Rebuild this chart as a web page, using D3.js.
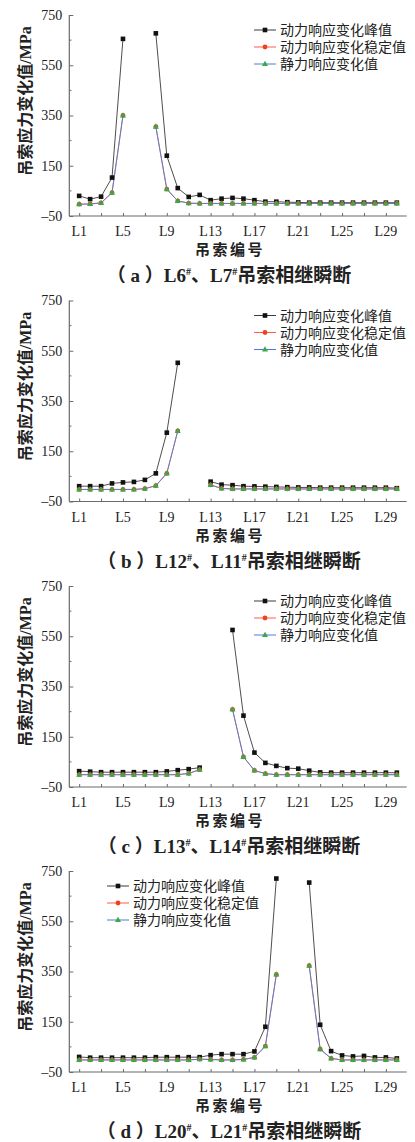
<!DOCTYPE html>
<html>
<head>
<meta charset="utf-8">
<script src="https://cdn.jsdelivr.net/npm/d3@7"></script>
<style>
  html, body { margin: 0; padding: 0; background: #fff; }
  svg { display: block; }
</style>
</head>
<body>
<svg id="chart" width="415" height="1142"></svg>
<script>
// ---------- data ----------
const cables = [1,2,3,4,5,6,7,8,9,10,11,12,13,14,15,16,17,18,19,20,21,22,23,24,25,26,27,28,29,30];
const xTickValues = [1,3,5,7,9,11,13,15,17,19,21,23,25,27,29];
const xTickLabels = ["L1","L5","L9","L13","L17","L21","L25","L29"];
const xLabelValues = [1,5,9,13,17,21,25,29];
const yTicks = [-50,150,350,550,750];
const yMinorTicks = [50,250,450,650];
const seriesNames = ["动力响应变化峰值","动力响应变化稳定值","静力响应变化值"];
const captions = [
  ["a","L6","L7"],
  ["b","L12","L11"],
  ["c","L13","L14"],
  ["d","L20","L21"]
];

// (a)
const peakA   = [30,17,27,103,655,null,null,677,190,61,26,34,13,19,22,19,13,7,7,5,4,3,3,3,3,3,3,3,3,3];
const stableA = [-3,-2,2,43,350,null,null,306,57,10,1,0,0,0,0,0,0,0,0,0,0,0,0,0,0,0,0,0,0,0];
const staticA = [-3,-2,2,43,350,null,null,306,57,10,1,0,0,0,0,0,0,0,0,0,0,0,0,0,0,0,0,0,0,0];
// (b)
const peakB   = [11,11,11,22,26,28,36,62,224,502,null,null,29,17,15,11,10,9,8,7,6,6,5,5,5,5,5,5,5,3];
const stableB = [-2,-2,-2,-2,-2,-2,1,13,62,231,null,null,16,2,0,0,0,0,0,0,0,0,0,0,0,0,0,0,0,0];
const staticB = [-2,-2,-2,-2,-2,-2,1,13,62,231,null,null,16,2,0,0,0,0,0,0,0,0,0,0,0,0,0,0,0,0];
// (c)
const peakC   = [13,11,9,9,9,9,9,9,12,17,21,27,null,null,575,234,87,46,34,25,23,15,8,7,7,7,7,7,7,7];
const stableC = [-1,-1,-1,-1,-1,-1,-1,-1,-1,-1,4,19,null,null,259,70,16,3,-1,-1,-1,-1,-1,-1,-1,-1,-1,-1,-1,-1];
const staticC = [-1,-1,-1,-1,-1,-1,-1,-1,-1,-1,4,19,null,null,259,70,16,3,-1,-1,-1,-1,-1,-1,-1,-1,-1,-1,-1,-1];
// (d)
const peakD   = [10,7,7,7,7,7,7,9,9,9,9,9,17,21,21,21,32,130,720,null,null,704,138,33,16,12,14,8,8,4];
const stableD = [-2,-2,-2,-2,-2,-2,-2,-2,-2,-2,-2,1,0,-2,-2,0,8,53,338,null,null,373,41,4,-2,-2,-2,-2,-2,-2];
const staticD = [-2,-2,-2,-2,-2,-2,-2,-2,-2,-2,-2,1,0,-2,-2,0,8,53,338,null,null,373,41,4,-2,-2,-2,-2,-2,-2];

const panels = [
  { peak: peakA, stable: stableA, stat: staticA },
  { peak: peakB, stable: stableB, stat: staticB },
  { peak: peakC, stable: stableC, stat: staticC },
  { peak: peakD, stable: stableD, stat: staticD }
];

// ---------- layout / style ----------
const tops = [15, 300.5, 586, 871];
const plotH = 201;
const left = 69.3, right = 406.7;
const legendX = [254, 254, 254, 107];
const numFont = "'Liberation Serif', 'Noto Sans CJK SC', serif";
const cjkFont = "'Noto Sans CJK SC', sans-serif";
const mixFont = "'Liberation Serif', 'Noto Sans CJK SC', serif";
const axisColor = "#6a6a6a";
const colPeakLine = "#3a3a3a", colPeakMark = "#111111";
const colStableLine = "#ff5a4a", colStableMark = "#f0401e";
const colStaticLine = "#4a7fd6", colStaticMark = "#3aa84a";

const svg = d3.select("#chart");
svg.append("rect").attr("width",415).attr("height",1142).attr("fill","#fff");

const x = d3.scaleLinear().domain([0.1, 30.9]).range([left, right]);

function drawMarker(g, type, cx, cy) {
  if (type === "square") {
    g.append("rect").attr("x", cx-2.3).attr("y", cy-2.3).attr("width",4.6).attr("height",4.6)
      .attr("fill", colPeakMark);
  } else if (type === "circle") {
    g.append("circle").attr("cx", cx).attr("cy", cy).attr("r", 2.4).attr("fill", colStableMark);
  } else {
    const s = 3.2;
    g.append("path").attr("d", `M${cx},${cy-s}L${cx+s*0.95},${cy+s*0.65}L${cx-s*0.95},${cy+s*0.65}Z`)
      .attr("fill", colStaticMark);
  }
}

panels.forEach((p, i) => {
  const top = tops[i];
  const y = d3.scaleLinear().domain([-50, 750]).range([top + plotH, top]);
  const g = svg.append("g");

  // axes
  const yAxis = d3.axisLeft(y).tickValues(yTicks).tickSize(-4).tickPadding(8)
    .tickFormat(d => d < 0 ? "\u2013" + Math.abs(d) : d);
  const ga = g.append("g").attr("transform", `translate(${left},0)`).call(yAxis);
  ga.select(".domain").attr("stroke", axisColor).attr("stroke-width", 1.2)
    .attr("d", `M0,${top}V${top+plotH}`);
  ga.selectAll(".tick line").attr("stroke", axisColor);
  ga.selectAll(".tick text").attr("font-family", numFont).attr("font-size", 14)
    .attr("fill", "#222").attr("x", -7);
  yMinorTicks.forEach(v => {
    g.append("line").attr("x1", left).attr("x2", left+2.2).attr("y1", y(v)).attr("y2", y(v))
      .attr("stroke", axisColor);
  });

  const xAxis = d3.axisBottom(x).tickValues(xTickValues).tickSize(-3).tickFormat("");
  const gx = g.append("g").attr("transform", `translate(0,${top+plotH})`).call(xAxis);
  gx.select(".domain").attr("stroke", axisColor).attr("stroke-width", 1.2)
    .attr("d", `M${left},0H${right}`);
  gx.selectAll(".tick line").attr("stroke", axisColor);
  g.selectAll(".xlab").data(xLabelValues).enter().append("text")
    .attr("x", d => x(d)).attr("y", top + plotH + 20)
    .attr("text-anchor", "middle").attr("font-family", numFont).attr("font-size", 14)
    .attr("fill", "#222")
    .text((d, k) => xTickLabels[k]);

  // titles
  g.append("text").attr("transform", `translate(30.5,${top + 86}) rotate(-90)`)
    .attr("text-anchor", "middle").attr("font-family", mixFont).attr("font-size", 16)
    .attr("font-weight", "bold").attr("fill", "#222")
    .text("吊索应力变化值/MPa");
  g.append("text").attr("x", 230).attr("y", top + 240)
    .attr("text-anchor", "middle").attr("font-family", cjkFont).attr("font-size", 15)
    .attr("font-weight", "bold").attr("letter-spacing", 2.5).attr("fill", "#222")
    .text("吊索编号");
  const cap = g.append("text").attr("x", 229).attr("y", top + 267)
    .attr("text-anchor", "middle").attr("font-family", mixFont).attr("font-size", 19)
    .attr("font-weight", "bold").attr("fill", "#222");
  const c = captions[i];
  cap.append("tspan").text("（ " + c[0] + " ）" + c[1]);
  cap.append("tspan").attr("font-size", 10).attr("dy", -7).text("#");
  cap.append("tspan").attr("dy", 7).text("、" + c[2]);
  cap.append("tspan").attr("font-size", 10).attr("dy", -7).text("#");
  cap.append("tspan").attr("dy", 7).text("吊索相继瞬断");

  // series
  const line = d3.line().defined(d => d.v !== null).x(d => x(d.c)).y(d => y(d.v));
  const mk = arr => cables.map((c, k) => ({ c: c, v: arr[k] }));
  const sets = [
    { data: mk(p.peak), stroke: colPeakLine, w: 0.9, m: "square" },
    { data: mk(p.stable), stroke: colStableLine, w: 0.9, m: "circle" },
    { data: mk(p.stat), stroke: colStaticLine, w: 0.9, m: "triangle" }
  ];
  sets.forEach(s => {
    g.append("path").datum(s.data).attr("d", line).attr("fill", "none")
      .attr("stroke", s.stroke).attr("stroke-width", s.w);
  });
  sets.forEach(s => {
    s.data.filter(d => d.v !== null).forEach(d => drawMarker(g, s.m, x(d.c), y(d.v)));
  });

  // legend
  const lx = legendX[i];
  const legendStrokes = [colPeakLine, colStableLine, colStaticLine];
  const legendMarks = ["square","circle","triangle"];
  seriesNames.forEach((name, k) => {
    const ly = top + 15 + k * 17;
    g.append("line").attr("x1", lx).attr("x2", lx + 22).attr("y1", ly).attr("y2", ly)
      .attr("stroke", legendStrokes[k]).attr("stroke-width", 1);
    drawMarker(g, legendMarks[k], lx + 11, ly);
    g.append("text").attr("x", lx + 26).attr("y", ly + 5)
      .attr("font-family", cjkFont).attr("font-size", 14).attr("fill", "#222")
      .text(name);
  });
});
</script>
</body>
</html>
